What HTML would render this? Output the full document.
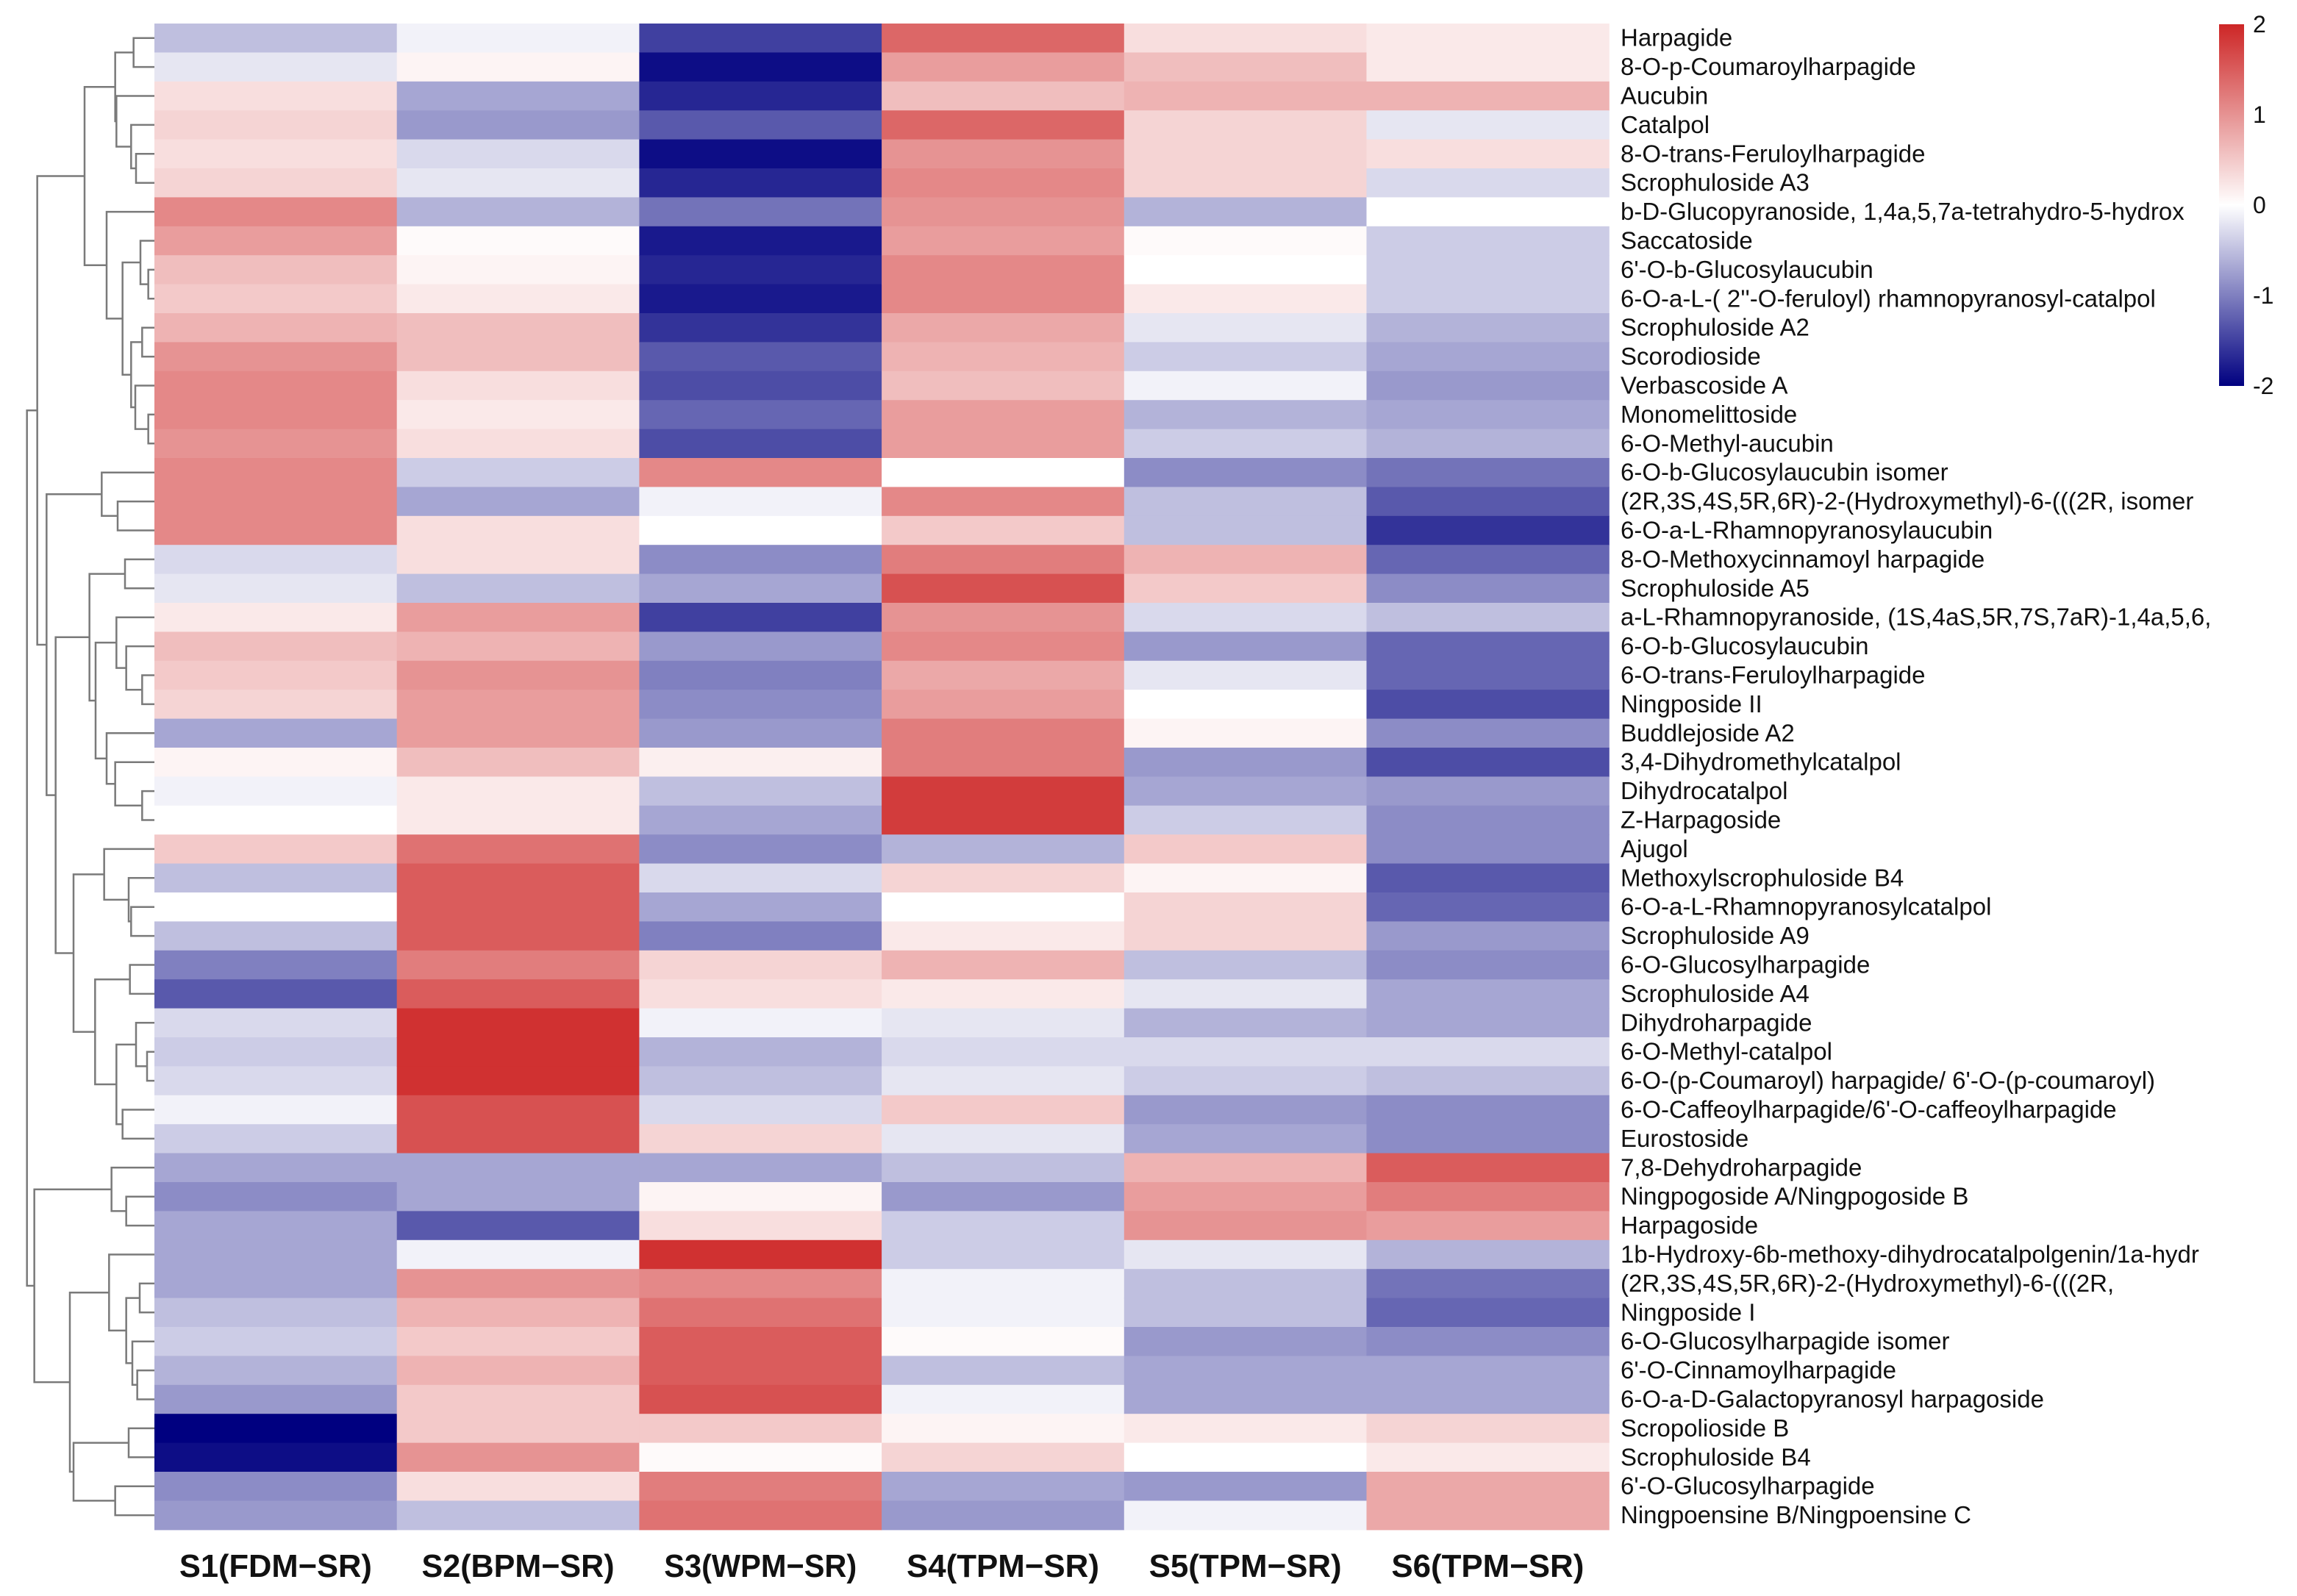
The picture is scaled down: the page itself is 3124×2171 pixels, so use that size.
<!DOCTYPE html>
<html><head><meta charset="utf-8"><style>
html,body{margin:0;padding:0;background:#fff}
svg{display:block}
text{font-family:"Liberation Sans",sans-serif}
</style></head><body>
<svg id="chart" width="3124" height="2171" viewBox="0 0 3124 2171" xmlns="http://www.w3.org/2000/svg">
<defs><linearGradient id="cbg" x1="0" y1="1" x2="0" y2="0">
<stop offset="0" stop-color="#000080"/><stop offset="0.5" stop-color="#ffffff"/><stop offset="1" stop-color="#CD2626"/></linearGradient></defs>
<g id="dendro"></g>
<g id="cells"></g>
<g id="rowlabels"></g>
<g id="collabels"></g>
<g id="legend">
<rect x="3018" y="33" width="34" height="492" fill="url(#cbg)"/>
</g>
</svg>
<script>
const samples=["S1(FDM−SR)","S2(BPM−SR)","S3(WPM−SR)","S4(TPM−SR)","S5(TPM−SR)","S6(TPM−SR)"];
const compounds=["Harpagide","8-O-p-Coumaroylharpagide","Aucubin","Catalpol","8-O-trans-Feruloylharpagide","Scrophuloside A3","b-D-Glucopyranoside, 1,4a,5,7a-tetrahydro-5-hydrox","Saccatoside","6'-O-b-Glucosylaucubin","6-O-a-L-( 2''-O-feruloyl) rhamnopyranosyl-catalpol","Scrophuloside A2","Scorodioside","Verbascoside A","Monomelittoside","6-O-Methyl-aucubin","6-O-b-Glucosylaucubin isomer","(2R,3S,4S,5R,6R)-2-(Hydroxymethyl)-6-(((2R, isomer","6-O-a-L-Rhamnopyranosylaucubin","8-O-Methoxycinnamoyl harpagide","Scrophuloside A5","a-L-Rhamnopyranoside, (1S,4aS,5R,7S,7aR)-1,4a,5,6,","6-O-b-Glucosylaucubin","6-O-trans-Feruloylharpagide","Ningposide II","Buddlejoside A2","3,4-Dihydromethylcatalpol","Dihydrocatalpol","Z-Harpagoside","Ajugol","Methoxylscrophuloside B4","6-O-a-L-Rhamnopyranosylcatalpol","Scrophuloside A9","6-O-Glucosylharpagide","Scrophuloside A4","Dihydroharpagide","6-O-Methyl-catalpol"," 6-O-(p-Coumaroyl) harpagide/ 6'-O-(p-coumaroyl)","6-O-Caffeoylharpagide/6'-O-caffeoylharpagide","Eurostoside","7,8-Dehydroharpagide","Ningpogoside A/Ningpogoside B","Harpagoside","1b-Hydroxy-6b-methoxy-dihydrocatalpolgenin/1a-hydr","(2R,3S,4S,5R,6R)-2-(Hydroxymethyl)-6-(((2R,","Ningposide I","6-O-Glucosylharpagide isomer","6'-O-Cinnamoylharpagide","6-O-a-D-Galactopyranosyl harpagoside","Scropolioside B","Scrophuloside B4","6'-O-Glucosylharpagide","Ningpoensine B/Ningpoensine C"];
const s1=[-0.5,-0.2,0.3,0.4,0.3,0.4,1.1,0.9,0.6,0.5,0.7,1.0,1.1,1.1,1.0,1.1,1.1,1.1,-0.3,-0.2,0.2,0.6,0.5,0.4,-0.7,0.1,-0.1,0.0,0.5,-0.5,0.0,-0.5,-1.0,-1.3,-0.3,-0.4,-0.3,-0.1,-0.4,-0.7,-0.9,-0.7,-0.7,-0.7,-0.5,-0.4,-0.6,-0.8,-2.0,-1.9,-0.9,-0.8];
const s2=[-0.1,0.1,-0.7,-0.8,-0.3,-0.2,-0.6,0.05,0.1,0.2,0.6,0.6,0.3,0.2,0.3,-0.4,-0.7,0.3,0.3,-0.5,0.9,0.7,1.0,0.9,0.9,0.6,0.2,0.2,1.3,1.5,1.5,1.5,1.2,1.5,1.9,1.9,1.9,1.6,1.6,-0.7,-0.7,-1.3,-0.1,1.0,0.7,0.5,0.7,0.5,0.5,1.0,0.3,-0.5];
const s3=[-1.5,-1.9,-1.7,-1.3,-1.9,-1.7,-1.1,-1.8,-1.7,-1.8,-1.6,-1.3,-1.4,-1.2,-1.4,1.1,-0.1,0.0,-0.9,-0.7,-1.5,-0.8,-1.0,-0.9,-0.8,0.15,-0.5,-0.7,-0.9,-0.3,-0.7,-1.0,0.4,0.3,-0.1,-0.6,-0.5,-0.3,0.4,-0.7,0.1,0.3,1.9,1.1,1.3,1.5,1.5,1.6,0.5,0.05,1.2,1.3];
const s4=[1.4,0.9,0.6,1.4,1.0,1.1,1.0,0.9,1.1,1.1,0.8,0.7,0.6,0.9,0.9,0.0,1.1,0.5,1.2,1.6,1.0,1.1,0.8,0.9,1.2,1.2,1.8,1.8,-0.6,0.4,0.0,0.2,0.7,0.2,-0.2,-0.3,-0.2,0.5,-0.2,-0.5,-0.8,-0.4,-0.4,-0.1,-0.1,0.05,-0.5,-0.1,0.1,0.4,-0.7,-0.8];
const s5=[0.3,0.6,0.7,0.4,0.4,0.4,-0.6,0.05,0.0,0.2,-0.2,-0.4,-0.1,-0.6,-0.4,-0.9,-0.5,-0.5,0.7,0.5,-0.3,-0.8,-0.2,0.0,0.1,-0.8,-0.7,-0.4,0.5,0.1,0.4,0.4,-0.5,-0.2,-0.6,-0.3,-0.4,-0.8,-0.7,0.7,0.9,1.0,-0.2,-0.5,-0.5,-0.8,-0.7,-0.7,0.2,0.0,-0.8,-0.1];
const s6=[0.2,0.2,0.7,-0.2,0.3,-0.3,0.0,-0.4,-0.4,-0.4,-0.6,-0.7,-0.8,-0.7,-0.6,-1.1,-1.3,-1.6,-1.2,-0.9,-0.5,-1.2,-1.2,-1.4,-0.9,-1.4,-0.8,-0.9,-0.9,-1.3,-1.2,-0.8,-0.9,-0.7,-0.7,-0.3,-0.5,-0.9,-0.9,1.5,1.2,0.9,-0.6,-1.1,-1.2,-0.9,-0.7,-0.7,0.4,0.2,0.8,0.8];
const legendTicks=[2,1,0,-1,-2];
// dendrogram: [left,right,height]
const tree=[[[[[0,1,455],[2,[3,[4,5,465],445],385],380],[6,[[7,[8,9,515],483],[[10,11,490],[12,[13,14,515],462],445],410],345],255],[[15,[16,17,390],325],[[[18,19,420],[[20,[21,[22,23,490],425],385],[24,[25,[26,27,490],380],345],300],275],[[28,[29,[30,31,445],435],335],[[32,33,440],[[34,[35,36,510],465],[37,38,410],385],298],210],137],100],62],[[39,[40,41,425],365],[[42,[[43,44,480],[45,[46,47,470],450],425],355],[[48,49,435],[50,51,380],210],195],50],20];

const NS="http://www.w3.org/2000/svg";
const X0=210,CW=329.7,Y0=32,RH=39.4;
const xS=i=>X0+i*CW, yS=r=>Y0+r*RH;
const cbTop=33,cbBot=525, cbY=v=>cbBot-(v+2)/4*(cbBot-cbTop);
function col(v){v=Math.max(-2,Math.min(2,v));let a,b,t;
 if(v<0){a=[0,0,128];b=[255,255,255];t=(v+2)/2}else{a=[255,255,255];b=[205,38,38];t=v/2}
 return "rgb("+a.map((c,i)=>Math.round(c+(b[i]-c)*t)).join(",")+")";}
function mk(tag,attrs,parent){const e=document.createElementNS(NS,tag);for(const k in attrs)e.setAttribute(k,attrs[k]);parent.appendChild(e);return e;}
const series=[s1,s2,s3,s4,s5,s6];
const cells=document.getElementById('cells');
series.forEach((s,c)=>s.forEach((v,r)=>{
 const el=mk('rect',{x:xS(c),y:yS(r),width:CW+0.6,height:RH+0.6,fill:col(v)},cells);
 
 
}));
const rl=document.getElementById('rowlabels');
compounds.forEach((n,r)=>{
 const t=mk('text',{x:2204,y:yS(r)+RH/2+11,'font-size':33,fill:'#111'},rl);t.textContent=n;
 
 
});
const cl=document.getElementById('collabels');
samples.forEach((n,c)=>{
 const t=mk('text',{x:xS(c)+CW/2,y:2145,'font-size':44,'font-weight':'bold','text-anchor':'middle',textLength:262,lengthAdjust:'spacingAndGlyphs',fill:'#111'},cl);t.textContent=n;
 
 
});
const lg=document.getElementById('legend');
legendTicks.forEach(v=>{
 const t=mk('text',{x:3064,y:cbY(v)+11,'font-size':32,fill:'#111'},lg);t.textContent=String(v);
 
 
});
const dg=document.getElementById('dendro');
const hx=h=>30+h/3;
function draw(n){ if(typeof n==='number')return {y:yS(n)+RH/2,x:X0};
 const L=draw(n[0]),R=draw(n[1]),x=hx(n[2]);
 const p=mk('path',{d:`M${L.x},${L.y}H${x}V${R.y}H${R.x}`,fill:'none',stroke:'#7a7a7a','stroke-width':2.5},dg);
 
 
 return {x:x,y:(L.y+R.y)/2};}
draw(tree);
</script>
</body></html>
